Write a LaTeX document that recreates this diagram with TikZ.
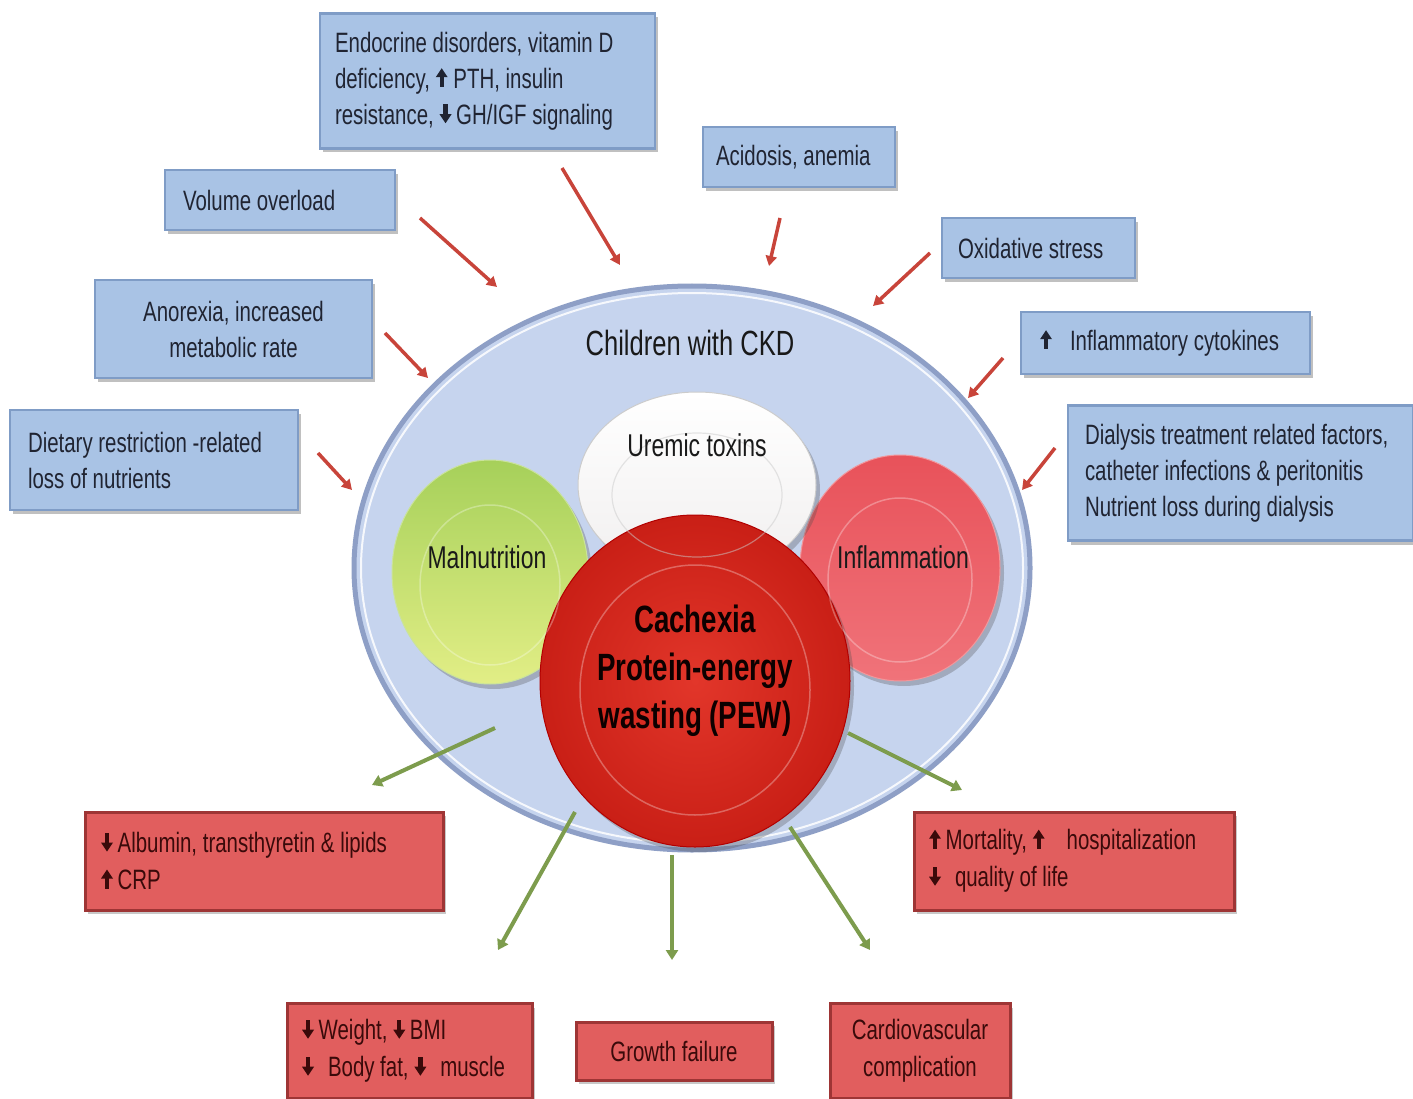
\documentclass[tikz,border=0pt]{standalone}
\usepackage{fontspec}
\setmainfont{Liberation Sans}[FakeStretch=0.73]
\usetikzlibrary{shapes.geometric,arrows.meta,shadows}
\hyphenpenalty=10000
\exhyphenpenalty=10000
\hbadness=10000
\hfuzz=100pt
\definecolor{blueboxc}{HTML}{A9C3E5}
\definecolor{blueedge}{HTML}{7F9CC6}
\definecolor{redboxc}{HTML}{E15E5E}
\definecolor{rededge}{HTML}{9E3535}
\definecolor{ellfill}{HTML}{C6D4EE}
\definecolor{elledge}{HTML}{8E9FC6}
\definecolor{inarrow}{HTML}{C8443A}
\definecolor{outarrow}{HTML}{7D9C4D}
\definecolor{bluetext}{HTML}{202432}
\definecolor{redtext}{HTML}{3A0A0A}
\definecolor{maltop}{HTML}{A6D05A}
\definecolor{malbot}{HTML}{E2EE86}
\definecolor{infltop}{HTML}{E8525A}
\definecolor{inflbot}{HTML}{F0737A}
\definecolor{cachin}{HTML}{E2362A}
\definecolor{cachout}{HTML}{C91F16}
\newcommand\upa{\tikz[baseline=-1pt]{\fill (-2.2pt,0pt) rectangle (2.2pt,11pt); \fill (-6pt,10pt) -- (6pt,10pt) -- (0pt,19pt) -- cycle;}}
\newcommand\dna{\tikz[baseline=-1pt]{\fill (-2.2pt,8pt) rectangle (2.2pt,19pt); \fill (-6pt,9pt) -- (6pt,9pt) -- (0pt,0pt) -- cycle;}}
\tikzset{
  bluebox/.style={draw=blueedge, line width=2.5pt, fill=blueboxc,
    drop shadow={shadow xshift=3pt,shadow yshift=-4pt,opacity=0.35,fill=black!70},
    font=\fontsize{28}{36}\selectfont, text=bluetext, inner sep=0pt},
  redbox/.style={draw=rededge, line width=3pt, fill=redboxc,
    drop shadow={shadow xshift=3pt,shadow yshift=-4pt,opacity=0.3,fill=black!70},
    font=\fontsize{28}{37}\selectfont, text=redtext, inner sep=0pt},
  plate/.style={ellipse, inner sep=0pt,
    drop shadow={shadow xshift=4pt,shadow yshift=-5pt,opacity=0.3,fill=black!70}},
  ring/.style={white, line width=1.5pt, opacity=0.3},
  platetext/.style={font=\fontsize{31.5}{36}\selectfont, text=black!90},
  inarr/.style={draw=inarrow, line width=3.5pt, -{Triangle[length=10pt,width=11pt]}},
  outarr/.style={draw=outarrow, line width=4pt, -{Triangle[length=10pt,width=12pt]}}
}
\begin{document}
\begin{tikzpicture}[x=1pt,y=-1pt]
\useasboundingbox[fill=white] (0,0) rectangle (1413,1099);

% big CKD ellipse
\node[ellipse, minimum width=676pt, minimum height=564pt, fill=ellfill, draw=elledge,
  line width=5pt, inner sep=0pt] (ckd) at (692,568) {};
\draw[white, line width=2pt, opacity=0.85] (692,568) ellipse [x radius=331pt, y radius=275pt];
\node[font=\fontsize{35}{40}\selectfont, text=black!90] (ckdtext) at (690,343) {Children with CKD};

% plates
\node[plate, minimum width=196pt, minimum height=224pt, top color=maltop, bottom color=malbot, draw=maltop!60!white, line width=1pt] (mal) at (490,572) {};
\node[plate, minimum width=200pt, minimum height=226pt, top color=infltop, bottom color=inflbot, draw=infltop!60!white, line width=1pt] (infl) at (900,568) {};
\node[plate, minimum width=238pt, minimum height=186pt, top color=white, bottom color=red!6!gray!12!white, draw=gray!40, line width=1pt] (urem) at (697,485) {};
\node[plate, minimum width=310pt, minimum height=332pt, inner color=cachin, outer color=cachout, draw=red!70!black, line width=1pt] (cach) at (695,681) {};
\draw[ring] (490,585) ellipse [x radius=70pt, y radius=80pt];
\draw[ring] (900,580) ellipse [x radius=72pt, y radius=82pt];
\draw[gray!40, line width=1.2pt, opacity=0.5] (697,495) ellipse [x radius=85pt, y radius=62pt];
\draw[ring] (695,690) ellipse [x radius=115pt, y radius=125pt];

\node[platetext] (maltext) at (487,557) {Malnutrition};
\node[platetext] (infltext) at (903,557) {Inflammation};
\node[platetext] (uremtext) at (697,445) {Uremic toxins};
\node[font=\bfseries\fontsize{38}{48}\selectfont, text=black!95!red, align=center] (cachtext) at (695,671) {Cachexia\\Protein-energy\\wasting (PEW)};

% blue boxes
\node[bluebox, minimum width=335pt, minimum height=135pt, text width=305pt, align=flush left] (endo) at (487.5,81)
  {Endocrine disorders, vitamin D\\deficiency, \upa\ PTH, insulin\\resistance, \dna\,GH/IGF signaling};
\node[bluebox, minimum width=230pt, minimum height=60pt, text width=194pt, align=flush left] (vol) at (280,200) {Volume overload};
\node[bluebox, minimum width=192pt, minimum height=60pt, text width=166pt, align=flush left] (acid) at (799,157) {Acidosis, anemia};
\node[bluebox, minimum width=193pt, minimum height=60pt, text width=161pt, align=flush left] (oxid) at (1038.5,248) {Oxidative stress};
\node[bluebox, minimum width=277pt, minimum height=98pt, text width=250pt, align=flush center] (anor) at (233.5,329) {Anorexia, increased\\metabolic rate};
\node[bluebox, minimum width=289pt, minimum height=62pt, text width=251pt, align=flush left] (cyto) at (1165.5,343) {\upa\hspace{18pt}Inflammatory cytokines};
\node[bluebox, minimum width=288pt, minimum height=100pt, text width=252pt, align=flush left] (diet) at (154,460) {Dietary restriction -related\\loss of nutrients};
\node[bluebox, minimum width=345pt, minimum height=135pt, text width=311pt, align=flush left] (dial) at (1240.5,473) {\mbox{Dialysis treatment related factors,}\\\mbox{catheter infections \& peritonitis}\\\mbox{Nutrient loss during dialysis}};

% red boxes
\node[redbox, minimum width=358pt, minimum height=98pt, text width=326pt, align=flush left] (alb) at (264,861) {\dna\,Albumin, transthyretin \& lipids\\\upa\,CRP};
\node[redbox, minimum width=320pt, minimum height=98pt, text width=290pt, align=flush left] (mort) at (1074,861) {\upa\,Mortality, \upa\hspace{22pt}hospitalization\\\dna\enspace quality of life};
\node[redbox, minimum width=245pt, minimum height=95pt, text width=215pt, align=flush left] (wt) at (409.5,1051) {\dna\,Weight, \dna\,BMI\\\dna\enspace Body fat, \dna\enspace muscle};
\node[redbox, minimum width=196pt, minimum height=58pt, text width=180pt, align=flush center] (grow) at (674,1051) {Growth failure};
\node[redbox, minimum width=180pt, minimum height=95pt, text width=170pt, align=flush center] (card) at (920,1051) {Cardiovascular\\complication};

% incoming arrows
\coordinate (a1s) at (420,218);  \coordinate (a1e) at (497,287);
\coordinate (a2s) at (562,168);  \coordinate (a2e) at (620,265);
\coordinate (a3s) at (780,218);  \coordinate (a3e) at (769,266);
\coordinate (a4s) at (930,253);  \coordinate (a4e) at (873,306);
\coordinate (a5s) at (385,333);  \coordinate (a5e) at (428,378);
\coordinate (a6s) at (1003,358); \coordinate (a6e) at (968,398);
\coordinate (a7s) at (318,453);  \coordinate (a7e) at (352,490);
\coordinate (a8s) at (1055,448); \coordinate (a8e) at (1022,490);
\foreach \i in {1,...,8} {\draw[inarr] (a\i s) -- (a\i e);}

% outgoing arrows
\coordinate (b1s) at (495,728);  \coordinate (b1e) at (372,785);
\coordinate (b2s) at (575,812);  \coordinate (b2e) at (498,950);
\coordinate (b3s) at (672,855);  \coordinate (b3e) at (672,960);
\coordinate (b4s) at (790,827);  \coordinate (b4e) at (870,950);
\coordinate (b5s) at (848,733);  \coordinate (b5e) at (962,790);
\foreach \i in {1,...,5} {\draw[outarr] (b\i s) -- (b\i e);}
\end{tikzpicture}
\end{document}
